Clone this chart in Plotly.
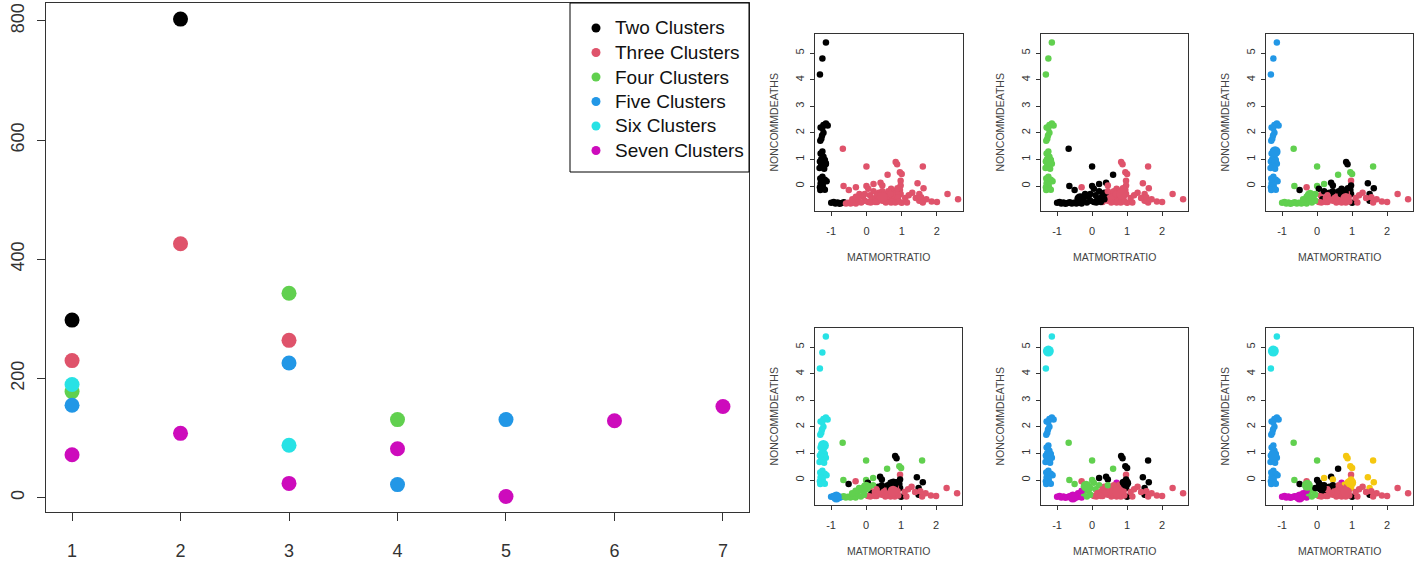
import plotly.graph_objects as go

W, H = 1415, 564
FONT = "Liberation Sans, Arial, sans-serif"

# ---------------- left panel data ----------------
cluster_x = [1, 2, 3, 4, 5, 6, 7]
two_clusters = [298, 803]
three_clusters = [230, 426, 264]
four_clusters = [178, None, 343, 131]
five_clusters = [155, None, 226, 22, 131]
six_clusters = [190, None, 88]
seven_clusters = [72, 108, 24, 82, 2, 129, 153]
series_names = ["Two Clusters", "Three Clusters", "Four Clusters",
                "Five Clusters", "Six Clusters", "Seven Clusters"]
left_xticks = [1, 2, 3, 4, 5, 6, 7]
left_yticks = [0, 200, 400, 600, 800]

palette = ["#000000", "#DF536B", "#61D04F", "#2297E6", "#28E2E5", "#CD0BBC", "#F5C710"]

# ---------------- right panels data ----------------
matmortratio = [
    -1.15, -1.25, -1.32,
    -1.15, -1.10, -1.22, -1.30, -1.25, -1.22, -1.26, -1.28, -1.31,
    -1.25, -1.30, -1.22, -1.28, -1.18, -1.32, -1.22, -1.15, -1.28, -1.24, -1.33, -1.20,
    -1.25, -1.31, -1.18, -1.13, -1.30, -1.24, -1.32, -1.22, -1.31, -1.18,
    -1.00, -0.93, -0.88, -0.82, -0.76, -0.70, -0.64, -0.58, -0.52, -0.45, -0.38, -0.30,
    -0.67, 0.00, 0.60, 0.83, 0.87, 0.95, 1.00, 1.60,
    -0.65, 0.00, 0.20, 0.40, 0.45, -0.50, -0.30, 0.05,
    0.97, 0.97, 0.95, 0.97, 1.00, 1.45, 1.62, 1.50, 1.50, 1.30, 2.30, 2.60, 1.85, 2.00, 1.15, 1.60,
    0.70, 0.78, 0.85, 0.75, 0.65, 0.80, 0.90, 0.55, 0.88,
    -0.20, -0.10, -0.25, 0.10, 0.15, 0.25, 0.30, 0.40, 0.45, 0.05, -0.05, 0.35, -0.15, 0.55, 0.20,
    1.40, 1.55, 1.10, 0.60, 0.70, 0.50,
    -0.40, -0.05, 0.30, 0.45, 0.62, 0.72, 0.82, 0.92, 0.58, 0.12, 0.35, 0.68, 1.20, 1.70, 0.25, -0.30,
]
noncommdeaths = [
    5.40, 4.80, 4.20,
    2.35, 2.28, 2.30, 2.20, 2.18, 2.00, 1.90, 1.78, 1.70,
    1.30, 1.22, 1.10, 1.02, 0.98, 0.92, 0.88, 0.84, 0.78, 0.72, 0.68, 0.65,
    0.35, 0.28, 0.24, 0.18, 0.10, 0.04, -0.05, -0.10, -0.15, -0.14,
    -0.63, -0.60, -0.66, -0.62, -0.67, -0.64, -0.61, -0.66, -0.63, -0.66, -0.62, -0.66,
    1.40, 0.73, 0.42, 0.90, 0.82, 0.52, 0.45, 0.73,
    0.00, 0.00, 0.08, 0.12, 0.02, -0.15, -0.05, -0.10,
    0.20, 0.02, -0.15, -0.30, -0.63, 0.10, -0.08, -0.30, -0.55, -0.25, -0.30, -0.50, -0.58, -0.60, -0.62, -0.62,
    -0.10, -0.18, -0.25, -0.35, -0.45, -0.50, -0.42, -0.30, -0.08,
    -0.30, -0.40, -0.50, -0.35, -0.50, -0.45, -0.60, -0.40, -0.55, -0.60, -0.55, -0.25, -0.62, -0.62, -0.20,
    -0.45, -0.42, -0.45, -0.55, -0.62, -0.45,
    -0.50, -0.30, -0.35, -0.20, -0.20, -0.58, -0.62, -0.58, -0.40, -0.62, -0.50, -0.30, -0.35, -0.50, -0.60, -0.40,
]

# cluster label of each country (1=black,2=red,3=green,4=blue,5=cyan,6=magenta,7=gold)
labels_k2 = [
    1, 1, 1,
    1, 1, 1, 1, 1, 1, 1, 1, 1,
    1, 1, 1, 1, 1, 1, 1, 1, 1, 1, 1, 1,
    1, 1, 1, 1, 1, 1, 1, 1, 1, 1,
    1, 1, 1, 1, 1, 1, 1, 2, 2, 2, 2, 2,
    2, 2, 2, 2, 2, 2, 2, 2,
    2, 2, 2, 2, 2, 2, 2, 2,
    2, 2, 2, 2, 2, 2, 2, 2, 2, 2, 2, 2, 2, 2, 2, 2,
    2, 2, 2, 2, 2, 2, 2, 2, 2,
    2, 2, 2, 2, 2, 2, 2, 2, 2, 2, 2, 2, 2, 2, 2,
    2, 2, 2, 2, 2, 2,
    2, 2, 2, 2, 2, 2, 2, 2, 2, 2, 2, 2, 2, 2, 2, 2,
]
labels_k3 = [
    3, 3, 3,
    3, 3, 3, 3, 3, 3, 3, 3, 3,
    3, 3, 3, 3, 3, 3, 3, 3, 3, 3, 3, 3,
    3, 3, 3, 3, 3, 3, 3, 3, 3, 3,
    1, 1, 1, 1, 1, 1, 1, 1, 1, 1, 1, 1,
    1, 1, 1, 2, 2, 2, 2, 2,
    1, 1, 1, 1, 2, 1, 2, 1,
    2, 2, 2, 2, 2, 2, 2, 2, 2, 2, 2, 2, 2, 2, 2, 2,
    2, 2, 2, 2, 2, 2, 2, 2, 2,
    1, 1, 1, 1, 1, 1, 2, 1, 2, 1, 1, 1, 1, 2, 1,
    2, 2, 2, 2, 2, 2,
    1, 1, 1, 2, 2, 2, 2, 2, 2, 1, 1, 2, 2, 2, 1, 1,
]
labels_k4 = [
    4, 4, 4,
    4, 4, 4, 4, 4, 4, 4, 4, 4,
    4, 4, 4, 4, 4, 4, 4, 4, 4, 4, 4, 4,
    4, 4, 4, 4, 4, 4, 4, 4, 4, 4,
    3, 3, 3, 3, 3, 3, 3, 3, 3, 3, 3, 3,
    3, 3, 3, 1, 1, 3, 3, 3,
    3, 3, 3, 1, 1, 1, 2, 1,
    2, 1, 1, 1, 1, 1, 1, 1, 1, 2, 2, 2, 2, 2, 2, 2,
    1, 1, 2, 2, 2, 2, 2, 2, 1,
    3, 3, 3, 2, 1, 2, 2, 1, 2, 2, 3, 1, 3, 2, 1,
    2, 2, 2, 2, 2, 2,
    3, 3, 2, 1, 1, 2, 2, 2, 2, 2, 2, 1, 2, 2, 2, 3,
]
labels_k5 = [
    5, 5, 5,
    5, 5, 5, 5, 5, 5, 5, 5, 5,
    5, 5, 5, 5, 5, 5, 5, 5, 5, 5, 5, 5,
    5, 5, 5, 5, 5, 5, 5, 5, 5, 5,
    4, 4, 4, 4, 4, 4, 3, 3, 3, 3, 3, 3,
    3, 3, 3, 1, 1, 3, 3, 3,
    3, 3, 3, 1, 1, 1, 2, 1,
    2, 1, 1, 1, 1, 1, 1, 1, 1, 2, 2, 2, 2, 2, 2, 2,
    1, 1, 2, 2, 2, 2, 2, 2, 1,
    3, 3, 3, 2, 1, 2, 2, 1, 2, 2, 3, 1, 3, 2, 3,
    2, 2, 2, 2, 2, 2,
    3, 3, 2, 1, 1, 2, 2, 2, 2, 2, 2, 1, 2, 2, 2, 3,
]
labels_k6 = [
    5, 5, 5,
    4, 4, 4, 4, 4, 4, 4, 4, 4,
    4, 4, 4, 4, 4, 4, 4, 4, 4, 4, 4, 4,
    4, 4, 4, 4, 4, 4, 4, 4, 4, 4,
    6, 6, 6, 6, 6, 6, 6, 6, 6, 6, 6, 6,
    3, 3, 3, 1, 1, 1, 1, 1,
    3, 3, 1, 1, 1, 3, 2, 3,
    2, 1, 1, 1, 1, 1, 1, 1, 1, 2, 2, 2, 2, 2, 2, 2,
    6, 2, 2, 2, 2, 2, 2, 2, 1,
    3, 3, 3, 3, 2, 2, 2, 2, 2, 2, 3, 2, 3, 2, 3,
    2, 2, 2, 2, 2, 2,
    6, 3, 2, 3, 2, 2, 2, 2, 2, 2, 2, 2, 2, 2, 2, 6,
]
labels_k7 = [
    5, 5, 5,
    4, 4, 4, 4, 4, 4, 4, 4, 4,
    4, 4, 4, 4, 4, 4, 4, 4, 4, 4, 4, 4,
    4, 4, 4, 4, 4, 4, 4, 4, 4, 4,
    6, 6, 6, 6, 6, 6, 6, 6, 6, 6, 6, 6,
    3, 3, 1, 7, 7, 7, 7, 7,
    3, 1, 7, 1, 7, 1, 2, 1,
    2, 7, 7, 7, 1, 7, 7, 7, 1, 2, 2, 2, 2, 2, 2, 2,
    6, 7, 2, 2, 2, 2, 2, 2, 7,
    3, 3, 3, 1, 1, 1, 2, 2, 2, 2, 3, 1, 3, 2, 1,
    2, 2, 2, 2, 2, 2,
    6, 1, 2, 1, 2, 2, 2, 2, 2, 2, 2, 2, 2, 2, 2, 6,
]

# cluster centres (drawn larger)
centers_k2_x = [-1.22, 0.45]
centers_k2_y = [0.85, -0.42]
centers_k2_lab = [1, 2]
centers_k3_x = [-1.24, -0.35, 0.85]
centers_k3_y = [0.95, -0.48, -0.30]
centers_k3_lab = [3, 1, 2]
centers_k4_x = [-1.20, -0.20, 0.75, 0.82]
centers_k4_y = [1.29, -0.35, -0.25, -0.47]
centers_k4_lab = [4, 3, 1, 2]
centers_k5_x = [-1.22, -0.85, 0.00, 0.78, 0.77]
centers_k5_y = [1.30, -0.64, -0.27, -0.15, -0.42]
centers_k5_lab = [5, 4, 3, 1, 2]
centers_k6_x = [-1.25, -1.24, -0.55, -0.17, 0.96, 0.72]
centers_k6_y = [4.85, 0.88, -0.64, -0.23, -0.12, -0.45]
centers_k6_lab = [5, 4, 6, 3, 1, 2]
centers_k7_x = [-1.25, -1.24, -0.50, -0.28, 0.12, 0.96, 0.82]
centers_k7_y = [4.85, 0.90, -0.64, -0.20, -0.28, -0.10, -0.45]
centers_k7_lab = [5, 4, 6, 3, 1, 7, 2]

small_xticks = [-1, 0, 1, 2]
small_xticktext = ["-1", "0", "1", "2"]
small_yticks = [0, 1, 2, 3, 4, 5]
x_title = "MATMORTRATIO"
y_title = "NONCOMMDEATHS"

# ---------------- figure ----------------
fig = go.Figure()

def px_dom_x(a, b):
    return [a / W, b / W]

def px_dom_y(top, bottom):
    return [1 - bottom / H, 1 - top / H]

# left panel series
left_series = [two_clusters, three_clusters, four_clusters,
               five_clusters, six_clusters, seven_clusters]
for i, vals in enumerate(left_series):
    fig.add_trace(go.Scatter(
        x=cluster_x[:len(vals)], y=vals, mode="markers", name=series_names[i],
        marker=dict(color=palette[i], size=15, line=dict(width=0)),
        showlegend=False, xaxis="x", yaxis="y", hoverinfo="skip"))

panels = [
    (labels_k2, centers_k2_x, centers_k2_y, centers_k2_lab, 815, 963, 34, 211),
    (labels_k3, centers_k3_x, centers_k3_y, centers_k3_lab, 1041, 1188, 34, 211),
    (labels_k4, centers_k4_x, centers_k4_y, centers_k4_lab, 1266, 1413, 34, 211),
    (labels_k5, centers_k5_x, centers_k5_y, centers_k5_lab, 815, 962, 328, 505),
    (labels_k6, centers_k6_x, centers_k6_y, centers_k6_lab, 1041, 1188, 328, 505),
    (labels_k7, centers_k7_x, centers_k7_y, centers_k7_lab, 1266, 1413, 328, 505),
]

axis_common = dict(showline=True, linecolor="#333", linewidth=1, mirror=True,
                   showgrid=False, zeroline=False, ticks="outside",
                   tickcolor="#333", tickwidth=1)

layout_axes = {}
layout_axes["xaxis"] = dict(axis_common, domain=px_dom_x(46, 749), range=[0.76, 7.24],
                            tickvals=left_xticks, ticklen=8, anchor="y",
                            tickfont=dict(size=18, color="#333", family=FONT),
                            ticklabelstandoff=14)
layout_axes["yaxis"] = dict(axis_common, domain=px_dom_y(3, 512), range=[-24, 830],
                            tickvals=left_yticks, ticklen=8, anchor="x",
                            tickangle=-90,
                            tickfont=dict(size=18, color="#333", family=FONT),
                            ticklabelstandoff=6)

annotations = []
shapes = []
for k, (labs, cx, cy, cl, x0, x1, y0, y1) in enumerate(panels):
    n = k + 2
    xa, ya = f"x{n}", f"y{n}"
    fig.add_trace(go.Scatter(
        x=matmortratio, y=noncommdeaths, mode="markers",
        marker=dict(color=[palette[l - 1] for l in labs], size=6.5, line=dict(width=0)),
        showlegend=False, xaxis=xa, yaxis=ya, hoverinfo="skip"))
    fig.add_trace(go.Scatter(
        x=cx, y=cy, mode="markers",
        marker=dict(color=[palette[l - 1] for l in cl], size=11, line=dict(width=0)),
        showlegend=False, xaxis=xa, yaxis=ya, hoverinfo="skip"))
    layout_axes[f"xaxis{n}"] = dict(axis_common, domain=px_dom_x(x0, x1), range=[-1.46, 2.74],
                                    tickvals=small_xticks, ticktext=small_xticktext,
                                    ticklen=4, anchor=ya,
                                    tickfont=dict(size=11, color="#333", family=FONT),
                                    ticklabelstandoff=6)
    layout_axes[f"yaxis{n}"] = dict(axis_common, domain=px_dom_y(y0, y1), range=[-0.94, 5.72],
                                    tickvals=small_yticks, ticklen=4, anchor=xa,
                                    tickangle=-90,
                                    tickfont=dict(size=11, color="#333", family=FONT),
                                    ticklabelstandoff=2)
    annotations.append(dict(text=y_title, x=(x0 - 42) / W, y=1 - ((y0 + y1) / 2) / H,
                            xref="paper", yref="paper", showarrow=False, textangle=-90,
                            font=dict(size=10.5, color="#444", family=FONT),
                            xanchor="center", yanchor="middle"))
    annotations.append(dict(text=x_title, x=((x0 + x1) / 2) / W, y=1 - (y1 + 46) / H,
                            xref="paper", yref="paper", showarrow=False,
                            font=dict(size=10.5, color="#444", family=FONT),
                            xanchor="center", yanchor="middle"))

# legend box (drawn like R's legend())
LEG_L, LEG_R, LEG_T, LEG_B = 570, 749, 3, 172
shapes.append(dict(type="rect", xref="paper", yref="paper",
                   x0=LEG_L / W, x1=LEG_R / W, y0=1 - LEG_B / H, y1=1 - LEG_T / H,
                   line=dict(color="#000", width=1), fillcolor="white", layer="above"))
for i, name in enumerate(series_names):
    cy_px = 28 + i * 24.5
    r = 4.5
    shapes.append(dict(type="circle", xref="paper", yref="paper",
                       x0=(596 - r) / W, x1=(596 + r) / W,
                       y0=1 - (cy_px + r) / H, y1=1 - (cy_px - r) / H,
                       line=dict(width=0), fillcolor=palette[i], layer="above"))
    annotations.append(dict(text=name, x=613 / W, y=1 - cy_px / H,
                            xref="paper", yref="paper", showarrow=False,
                            xanchor="left", yanchor="middle",
                            font=dict(size=19, color="#111", family=FONT)))

fig.update_layout(
    width=W, height=H,
    margin=dict(l=0, r=0, t=0, b=0),
    paper_bgcolor="white", plot_bgcolor="white",
    font=dict(family=FONT, color="#000"),
    annotations=annotations,
    shapes=shapes,
    showlegend=False,
    **layout_axes,
)

fig.write_html(
    "out.html",
    config={"displayModeBar": False},
    post_script="document.body.style.margin='0';document.documentElement.style.overflow='hidden';",
)
